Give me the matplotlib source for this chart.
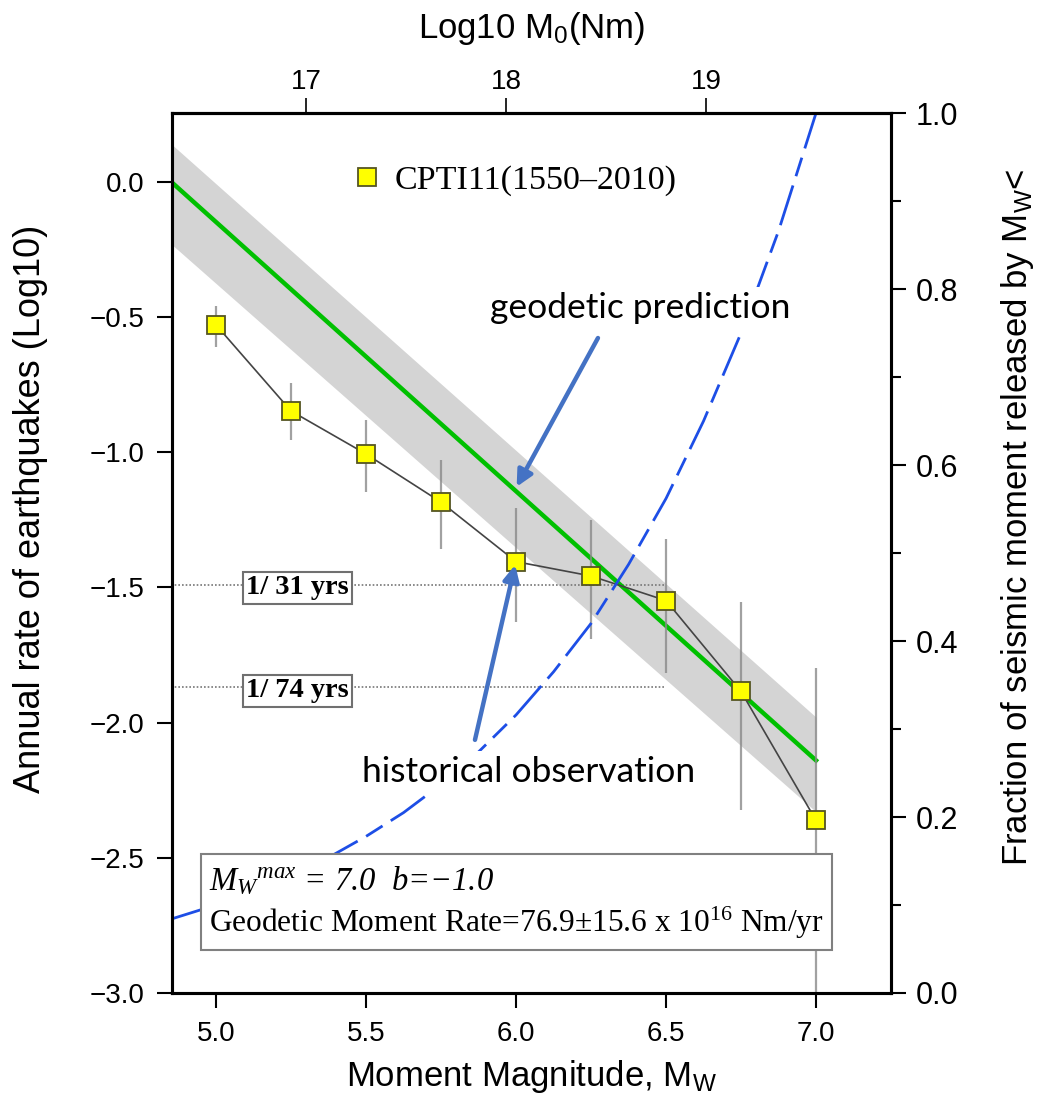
import numpy as np
import matplotlib
matplotlib.use("Agg")
import matplotlib.pyplot as plt
from matplotlib.lines import Line2D
from matplotlib.patches import Rectangle

# CPTI11 (1550-2010): annual rate (log10) per magnitude bin, with error bars
mw_obs = [5.0, 5.25, 5.5, 5.75, 6.0, 6.25, 6.5, 6.75, 7.0]
rate_obs = [-0.53, -0.848, -1.007, -1.185, -1.405, -1.458, -1.549, -1.885, -2.362]
rate_hi = [-0.46, -0.744, -0.88, -1.03, -1.207, -1.25, -1.32, -1.553, -1.80]
rate_lo = [-0.61, -0.955, -1.146, -1.358, -1.627, -1.69, -1.817, -2.323, -3.1]

# geodetic prediction and its uncertainty band
mw_geo = [4.85, 7.0]
rate_geo = [0.0, -2.14]
band_hi = [0.14, -1.98]
band_lo = [-0.23, -2.33]

# fraction of seismic moment released by Mw< (right axis)
mw_frac = [4.85, 5.0, 5.125, 5.25, 5.375, 5.5, 5.625, 5.75, 5.875, 6.0,
           6.125, 6.25, 6.375, 6.5, 6.625, 6.75, 6.875, 7.0]
frac = [0.084, 0.100, 0.115, 0.133, 0.154, 0.178, 0.205, 0.237, 0.274, 0.316,
        0.365, 0.42, 0.487, 0.562, 0.65, 0.75, 0.866, 1.0]

# recurrence reference lines
recur_years = [31, 74]
recur_xmax = 6.5

plt.rcParams["font.family"] = ["Liberation Sans", "DejaVu Sans"]
plt.rcParams["mathtext.default"] = "regular"

fig = plt.figure(figsize=(10.43, 11.09), dpi=100)
ax = fig.add_axes([0.1649, 0.1046, 0.6894, 0.7935])
ax2 = ax.twinx()

GREEN = "#00c000"
BLUE = "#1d4ee6"
ARROW = "#4472c4"
SERIF = ["Liberation Serif", "DejaVu Serif"]
NOTE = ["Lato", "DejaVu Sans"]

ax.fill_between(mw_geo, band_lo, band_hi, color="#d4d4d4", lw=0, zorder=1)
for yrs in recur_years:
    ax.plot([4.85, recur_xmax], [np.log10(1.0 / yrs)] * 2, ls=(0, (1, 1.2)),
            color="#777777", lw=1.2, zorder=2)
ax.plot(mw_geo, rate_geo, color=GREEN, lw=3.2, zorder=3)
ax.vlines(mw_obs, rate_lo, rate_hi, color="#8a8a8a", lw=1.6, alpha=0.8, zorder=4)
ax.plot(mw_obs, rate_obs, color="#444444", lw=1.2, zorder=5)
ax.plot(mw_obs, rate_obs, ls="none", marker="s", ms=12.5, mfc="#ffff00",
        mec="#555522", mew=1.3, zorder=6)

ax2.plot(mw_frac, frac, color=BLUE, lw=2.0, dashes=(15, 3.5, 7, 3.5), zorder=2)

# recurrence labels
for yrs, yl in zip(recur_years, [-1.502, -1.882]):
    ax.text(5.272, yl, f"1/ {yrs} yrs", family=SERIF, weight="bold", fontsize=20.5,
            ha="center", va="center", zorder=7,
            bbox=dict(boxstyle="square,pad=0.12", fc="white", ec="#707070", lw=1.5))

# legend
h = Line2D([], [], ls="none", marker="s", ms=12.5, mfc="#ffff00", mec="#555522", mew=1.3)
ax.legend([h], ["CPTI11(1550\u20132010)"], loc="center left",
          bbox_to_anchor=(0.25, 0.923), frameon=False, handlelength=0.9,
          handletextpad=0.35, borderpad=0, borderaxespad=0,
          prop=dict(family=SERIF, size=24.5))

# parameter box (drawn on top of the twin axis)
ax2.add_patch(Rectangle((4.95, -2.840), 2.102, 0.355, transform=ax.transData,
                        fc="white", ec="#808080", lw=1.5, zorder=10, clip_on=False))
ax2.text(4.975, -2.588, "$M_{W}{}^{max}$ = 7.0  b=\u22121.0",
         transform=ax.transData, family=SERIF, style="italic", fontsize=23.5,
         va="center", ha="left", zorder=11)
ax2.text(4.975, -2.741, r"Geodetic Moment Rate=76.9$\pm$15.6 x 10$^{16}$ Nm/yr",
         transform=ax.transData, family=SERIF, fontsize=22.6,
         va="center", ha="left", zorder=11)

# annotations
ax2.text(6.413, -0.468, "geodetic prediction", transform=ax.transData,
         family=NOTE, fontsize=25.5, ha="center", va="center",
         zorder=11, bbox=dict(boxstyle="square,pad=0.15", fc="white", ec="none"))
ax2.text(6.04, -2.183, "historical observation", transform=ax.transData,
         family=NOTE, fontsize=25.5, ha="center", va="center",
         zorder=11, bbox=dict(boxstyle="square,pad=0.15", fc="white", ec="none"))
ax2.annotate("", xy=(6.002, -1.128), xytext=(6.273, -0.578),
             xycoords=ax.transData, textcoords=ax.transData, zorder=12,
             arrowprops=dict(arrowstyle="-|>", color=ARROW, lw=3.2,
                             mutation_scale=24, shrinkA=0, shrinkB=0))
ax2.annotate("", xy=(5.997, -1.417), xytext=(5.863, -2.064),
             xycoords=ax.transData, textcoords=ax.transData, zorder=12,
             arrowprops=dict(arrowstyle="-|>", color=ARROW, lw=3.2,
                             mutation_scale=24, shrinkA=0, shrinkB=0))

# axes
ax.set_xlim(4.853, 7.25)
ax.set_ylim(-3.0, 0.254)
ax2.set_ylim(0, 1)
ax.set_xticks([5.0, 5.5, 6.0, 6.5, 7.0])
ax.set_yticks([-3.0, -2.5, -2.0, -1.5, -1.0, -0.5, 0.0])
ax.yaxis.set_major_formatter(matplotlib.ticker.FuncFormatter(
    lambda v, p: f"{v:.1f}".replace("-", "\u2212")))
ax.set_xticklabels(["5.0", "5.5", "6.0", "6.5", "7.0"])
ax2.set_yticks([0.0, 0.2, 0.4, 0.6, 0.8, 1.0])
ax2.set_yticks(np.arange(0.1, 1.0, 0.2), minor=True)

for a in (ax, ax2):
    for s in a.spines.values():
        s.set_linewidth(2.2)
ax.tick_params(axis="both", which="major", direction="out", length=11, width=1.5,
               labelsize=20, pad=9)
ax2.tick_params(axis="y", which="major", direction="out", length=11, width=1.5,
                labelsize=22, pad=7)
ax2.tick_params(axis="y", which="minor", direction="out", length=7, width=1.5)

top = ax.secondary_xaxis("top", functions=(lambda m: 1.5 * m + 9.05,
                                           lambda l: (l - 9.05) / 1.5))
top.set_xticks([17, 18, 19])
top.tick_params(direction="out", length=11, width=1.2, labelsize=20, pad=2)
top.spines["top"].set_linewidth(2.2)
top.set_xlabel(r"Log10 $M_0$(Nm)", fontsize=25, labelpad=22)

ax.set_xlabel(r"Moment Magnitude, $M_W$", fontsize=25, labelpad=8)
ax.set_ylabel("Annual rate of earthquakes (Log10)", fontsize=26, labelpad=30, y=0.55)
ax2.set_ylabel(r"Fraction of seismic moment released by $M_W$<",
               fontsize=25, labelpad=29, y=0.541)

fig.savefig("out.png", dpi=100)
